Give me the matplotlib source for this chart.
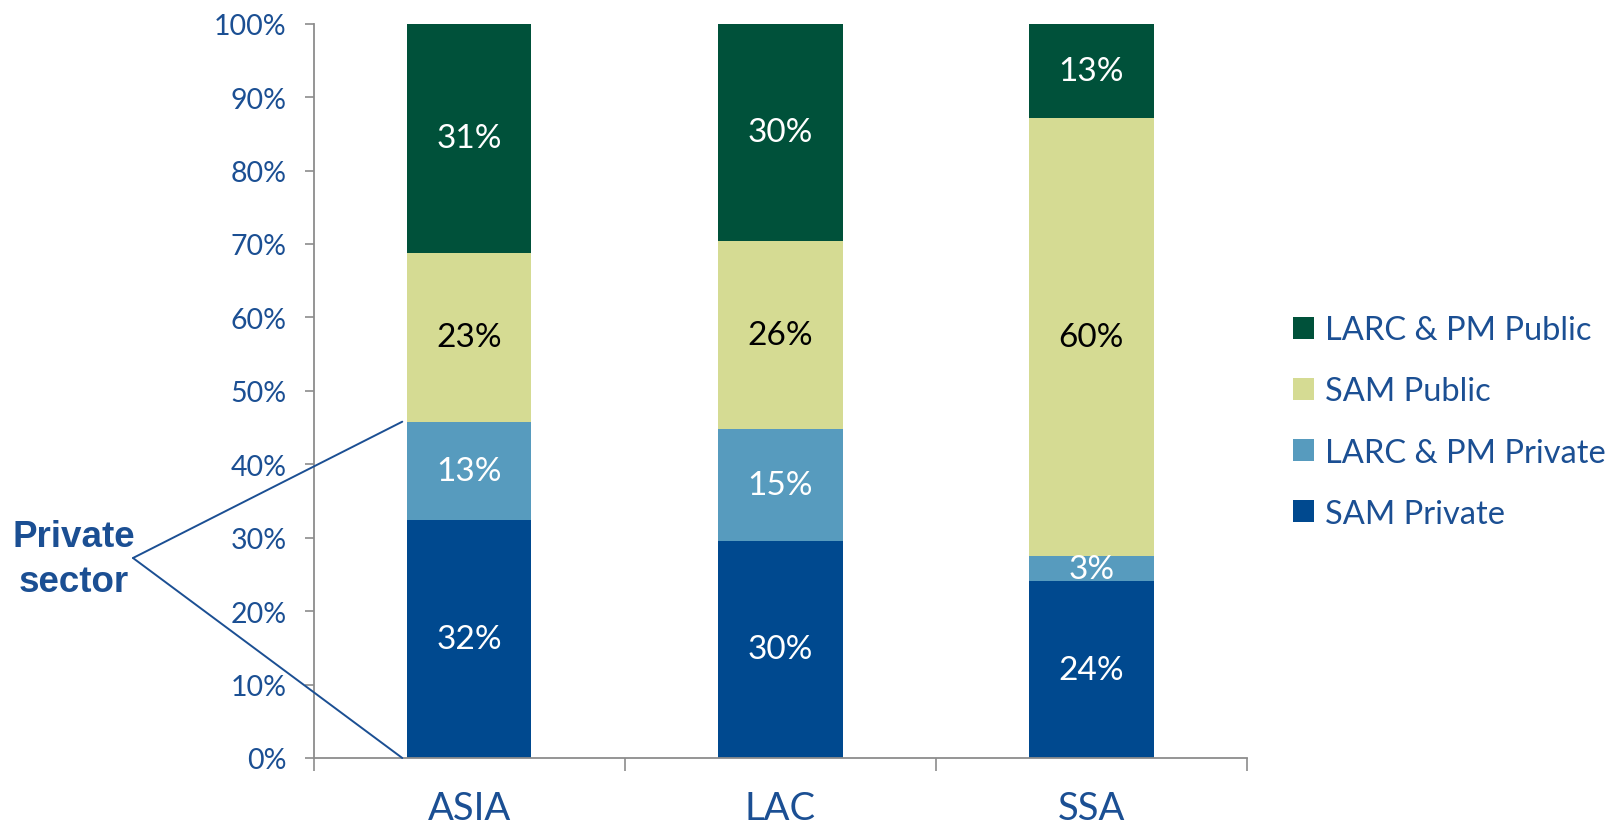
import matplotlib
matplotlib.use("Agg")
import matplotlib.pyplot as plt
import numpy as np

regions = ["ASIA", "LAC", "SSA"]
series_names = ["SAM Private", "LARC & PM Private", "SAM Public", "LARC & PM Public"]
sam_private = [32.4, 29.6, 24.1]
larc_private = [13.4, 15.2, 3.4]
sam_public = [23.0, 25.6, 59.6]
larc_public = [31.2, 29.6, 12.9]
y_ticks = [0, 10, 20, 30, 40, 50, 60, 70, 80, 90, 100]

colors = ["#00498F", "#579BBE", "#D5DB93", "#00513A"]
label_colors = ["white", "white", "black", "white"]
blue_text = "#1B4F93"
axis_gray = "#8C8C8C"

plt.rcParams['font.family'] = ['Lato', 'DejaVu Sans']

fig = plt.figure(figsize=(16.12, 8.29), dpi=100)
ax = fig.add_axes([313.6/1612, 1-759/829, (1247-313.6)/1612, (759-24.7)/829])

x = np.arange(len(regions))
data = [sam_private, larc_private, sam_public, larc_public]
bottom = np.zeros(len(regions))
handles = []
for vals, name, col, lc in zip(data, series_names, colors, label_colors):
    vals = np.array(vals)
    b = ax.bar(x, vals, width=0.4, bottom=bottom, color=col, label=name, linewidth=0)
    handles.append(b)
    for xi, v, bt in zip(x, vals, bottom):
        ax.text(xi, bt + v/2, f"{v:.0f}%", ha='center', va='center', color=lc, fontsize=24)
    bottom = bottom + vals

ax.set_xlim(-0.5, 2.5)
ax.set_ylim(0, 100)
ax.set_yticks(y_ticks)
ax.set_yticklabels([f"{t}%" for t in y_ticks])
ax.tick_params(axis='y', direction='out', length=6.5, width=1.2, color=axis_gray,
               labelcolor=blue_text, labelsize=20.5, pad=13)

ax.set_xticks([-0.5, 0.5, 1.5, 2.5])
ax.set_xticklabels([])
ax.set_xticks(x, minor=True)
ax.set_xticklabels(regions, minor=True)
ax.tick_params(axis='x', which='major', direction='out', length=9.5, width=1.2, color=axis_gray)
ax.tick_params(axis='x', which='minor', length=0, labelsize=27.5, labelcolor=blue_text, pad=23)

for s in ['top', 'right']:
    ax.spines[s].set_visible(False)
for s in ['left', 'bottom']:
    ax.spines[s].set_color(axis_gray)
    ax.spines[s].set_linewidth(1.3)

leg = fig.legend(handles[::-1], series_names[::-1], loc='center left',
                 bbox_to_anchor=(1293/1612, 1-423/829), bbox_transform=fig.transFigure,
                 frameon=False, fontsize=23.5, labelcolor=blue_text,
                 handlelength=0.65, handleheight=0.65, handletextpad=0.33,
                 labelspacing=0.95, borderpad=0, borderaxespad=0)

# Private sector bracket
priv_top = sam_private[0] + larc_private[0]
apex = (133/1612, 1-559/829)
for yy in [priv_top, 0]:
    ax.annotate("", xy=(-0.215, yy), xycoords='data', xytext=apex, textcoords='figure fraction',
                arrowprops=dict(arrowstyle='-', shrinkA=0, shrinkB=0, color="#1B4F93", lw=1.4),
                annotation_clip=False)

fig.text(74/1612, 1-560/829, "Private\nsector", ha='center', va='center',
         fontsize=26.5, fontweight='bold', color="#1B4F93", family='Liberation Sans',
         linespacing=1.38)

fig.savefig("out.png", dpi=100)
